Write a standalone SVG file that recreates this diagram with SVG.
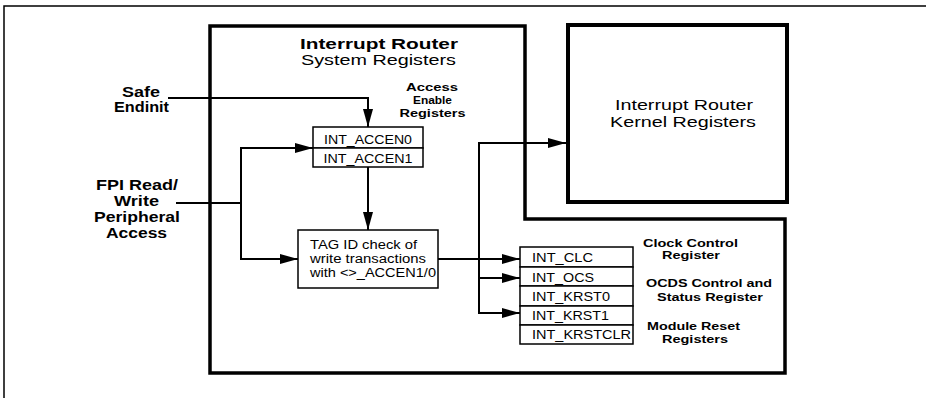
<svg xmlns="http://www.w3.org/2000/svg" width="926" height="398" viewBox="0 0 926 398">
<style>
text{font-family:"Liberation Sans",Arial,sans-serif;fill:#000}
.b{font-weight:bold}
.c{text-anchor:middle}
.box{fill:#fff;stroke:#000;stroke-width:1.5}
.thick{fill:#fff;stroke:#000;stroke-width:3.5}
.con{fill:none;stroke:#000;stroke-width:2}
.arr{fill:none;stroke:#000;stroke-width:2;marker-end:url(#ah)}
</style>
<defs>
<marker id="ah" viewBox="0 0 18 10" refX="18" refY="5" markerWidth="18" markerHeight="10" markerUnits="userSpaceOnUse" orient="auto">
<path d="M0,0 L18,5 L0,10 Z" fill="#000"/>
</marker>
</defs>
<rect width="926" height="398" fill="#fff"/>
<path d="M4,398 V6 H926" fill="none" stroke="#000" stroke-width="1.5"/>

<g id="system-registers">
<path class="thick" d="M210,26 H525 V219 H785 V373 H210 Z"/>
<text class="b c" x="379" y="49" font-size="15" textLength="158" lengthAdjust="spacingAndGlyphs">Interrupt Router</text>
<text class="c" x="378.5" y="65" font-size="15" textLength="155" lengthAdjust="spacingAndGlyphs">System Registers</text>
<text class="b c" x="432" y="91" font-size="11" textLength="52" lengthAdjust="spacingAndGlyphs">Access</text>
<text class="b c" x="432.5" y="104" font-size="11" textLength="39" lengthAdjust="spacingAndGlyphs">Enable</text>
<text class="b c" x="432.5" y="117" font-size="11" textLength="66" lengthAdjust="spacingAndGlyphs">Registers</text>
</g>

<g id="kernel-registers">
<rect x="568" y="25" width="219" height="177" fill="#fff" stroke="#000" stroke-width="4"/>
<text class="c" x="684" y="110" font-size="15" textLength="138" lengthAdjust="spacingAndGlyphs">Interrupt Router</text>
<text class="c" x="683" y="127" font-size="15" textLength="146" lengthAdjust="spacingAndGlyphs">Kernel Registers</text>
</g>

<g id="safe-endinit">
<text class="b c" x="141" y="97" font-size="14" textLength="38" lengthAdjust="spacingAndGlyphs">Safe</text>
<text class="b c" x="141.5" y="112" font-size="14" textLength="55" lengthAdjust="spacingAndGlyphs">Endinit</text>
</g>

<g id="fpi-access">
<text class="b c" x="137" y="190" font-size="14" textLength="82" lengthAdjust="spacingAndGlyphs">FPI Read/</text>
<text class="b c" x="136.5" y="206" font-size="14" textLength="45" lengthAdjust="spacingAndGlyphs">Write</text>
<text class="b c" x="137" y="222" font-size="14" textLength="86" lengthAdjust="spacingAndGlyphs">Peripheral</text>
<text class="b c" x="136.5" y="238" font-size="14" textLength="61" lengthAdjust="spacingAndGlyphs">Access</text>
</g>

<g id="accen">
<rect class="box" x="313" y="127" width="110" height="21"/>
<rect class="box" x="313" y="148" width="110" height="19"/>
<text class="c" x="368" y="144" font-size="13" textLength="88" lengthAdjust="spacingAndGlyphs">INT_ACCEN0</text>
<text class="c" x="368" y="163" font-size="13" textLength="89" lengthAdjust="spacingAndGlyphs">INT_ACCEN1</text>
</g>

<g id="tag-check">
<rect class="box" x="298" y="230" width="140" height="58"/>
<text x="310" y="249" font-size="12" textLength="107" lengthAdjust="spacingAndGlyphs">TAG ID check of</text>
<text x="310" y="263" font-size="12" textLength="116" lengthAdjust="spacingAndGlyphs">write transactions</text>
<text x="310" y="277" font-size="12" textLength="126" lengthAdjust="spacingAndGlyphs">with &lt;&gt;_ACCEN1/0</text>
</g>

<g id="register-stack">
<rect class="box" x="520" y="247" width="113" height="20"/>
<rect class="box" x="520" y="267" width="113" height="19"/>
<rect class="box" x="520" y="286" width="113" height="20"/>
<rect class="box" x="520" y="306" width="113" height="19"/>
<rect class="box" x="520" y="325" width="113" height="19"/>
<text x="532" y="262" font-size="13" textLength="61" lengthAdjust="spacingAndGlyphs">INT_CLC</text>
<text x="532" y="282" font-size="13" textLength="62" lengthAdjust="spacingAndGlyphs">INT_OCS</text>
<text x="532" y="301" font-size="13" textLength="78" lengthAdjust="spacingAndGlyphs">INT_KRST0</text>
<text x="532" y="320" font-size="13" textLength="77" lengthAdjust="spacingAndGlyphs">INT_KRST1</text>
<text x="532" y="339" font-size="13" textLength="99" lengthAdjust="spacingAndGlyphs">INT_KRSTCLR</text>
</g>

<g id="register-labels">
<text class="b c" x="690.5" y="247" font-size="11" textLength="95" lengthAdjust="spacingAndGlyphs">Clock Control</text>
<text class="b c" x="691" y="259" font-size="11" textLength="58" lengthAdjust="spacingAndGlyphs">Register</text>
<text class="b c" x="709" y="287" font-size="11" textLength="126" lengthAdjust="spacingAndGlyphs">OCDS Control and</text>
<text class="b c" x="710" y="301" font-size="11" textLength="106" lengthAdjust="spacingAndGlyphs">Status Register</text>
<text class="b c" x="693.5" y="330" font-size="11" textLength="93" lengthAdjust="spacingAndGlyphs">Module Reset</text>
<text class="b c" x="695" y="343" font-size="11" textLength="66" lengthAdjust="spacingAndGlyphs">Registers</text>
</g>

<g id="connectors">
<path class="arr" d="M168,98 H368 V127"/>
<path class="con" d="M176,203 H241"/>
<path class="arr" d="M241,203 V148 H313"/>
<path class="arr" d="M241,203 V259 H298"/>
<path class="arr" d="M368,167 V230"/>
<path class="arr" d="M438,259 H520"/>
<path class="arr" d="M479,259 V143 H566"/>
<path class="arr" d="M479,259 V278 H520"/>
<path class="arr" d="M479,278 V313 H520"/>
</g>
</svg>
